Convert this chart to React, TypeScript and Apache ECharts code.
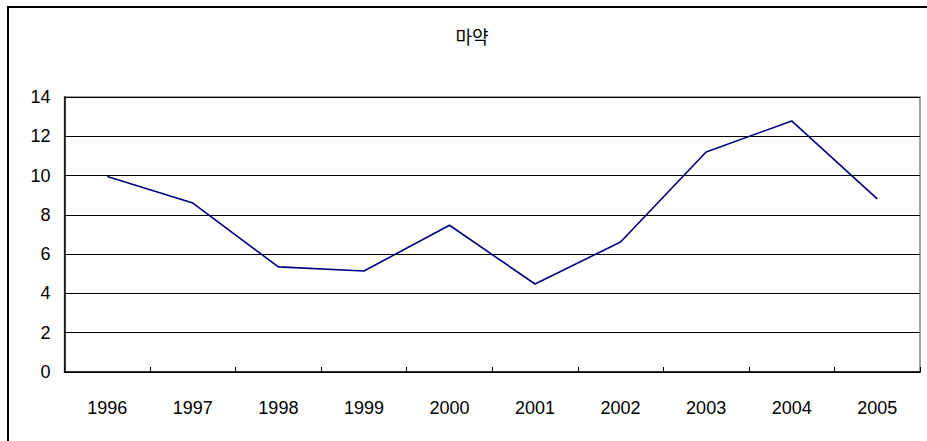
import React, { useEffect, useRef } from "react";
import * as echarts from "echarts";

const title = "마약";
const years = ["1996", "1997", "1998", "1999", "2000", "2001", "2002", "2003", "2004", "2005"];
const values = [9.95, 8.6, 5.35, 5.14, 7.47, 4.48, 6.62, 11.2, 12.78, 8.81];
const yTicks = { min: 0, max: 14, interval: 2 };

export default function App() {
  const ref = useRef<HTMLDivElement>(null);
  useEffect(() => {
    if (!ref.current) return;
    const chart = echarts.init(ref.current, undefined, { renderer: "svg" });
    const font = "'Liberation Sans', Arial, sans-serif";
    chart.setOption({
      animation: false,
      backgroundColor: "#fff",
      grid: {
        left: 64.5,
        top: 97,
        right: 7,
        bottom: 69,
        show: true,
        borderColor: "#808080",
        borderWidth: 1.5,
      },
      graphic: [
        {
          type: "polyline",
          shape: { points: [[8, 441], [8, 7], [927, 7]] },
          style: { stroke: "#000", lineWidth: 2, fill: "none" },
        },
        {
          type: "text",
          x: 472,
          y: 36,
          style: {
            text: title,
            textAlign: "center",
            textVerticalAlign: "middle",
            font: "18px 'Noto Sans CJK KR', sans-serif",
            fill: "#000",
          },
        },
      ],
      xAxis: {
        type: "category",
        data: years,
        boundaryGap: true,
        axisLine: { show: true, lineStyle: { color: "#000", width: 1.5 } },
        axisTick: { show: true, inside: true, length: 5, lineStyle: { color: "#000" } },
        axisLabel: { color: "#000", fontSize: 18, fontFamily: font, margin: 27 },
        splitLine: { show: false },
      },
      yAxis: {
        type: "value",
        min: yTicks.min,
        max: yTicks.max,
        interval: yTicks.interval,
        axisLine: { show: true, lineStyle: { color: "#000", width: 1.5 } },
        axisTick: { show: false },
        axisLabel: { color: "#000", fontSize: 18, fontFamily: font, margin: 14 },
        splitLine: { show: true, lineStyle: { color: "#000", width: 1 } },
      },
      series: [
        {
          type: "line",
          data: values,
          symbol: "none",
          lineStyle: { color: "#000080", width: 1.6 },
        },
      ],
    });
    return () => chart.dispose();
  }, []);
  return (
    <div
      ref={ref}
      style={{ position: "fixed", left: 0, top: 0, width: 927, height: 441 }}
    />
  );
}
